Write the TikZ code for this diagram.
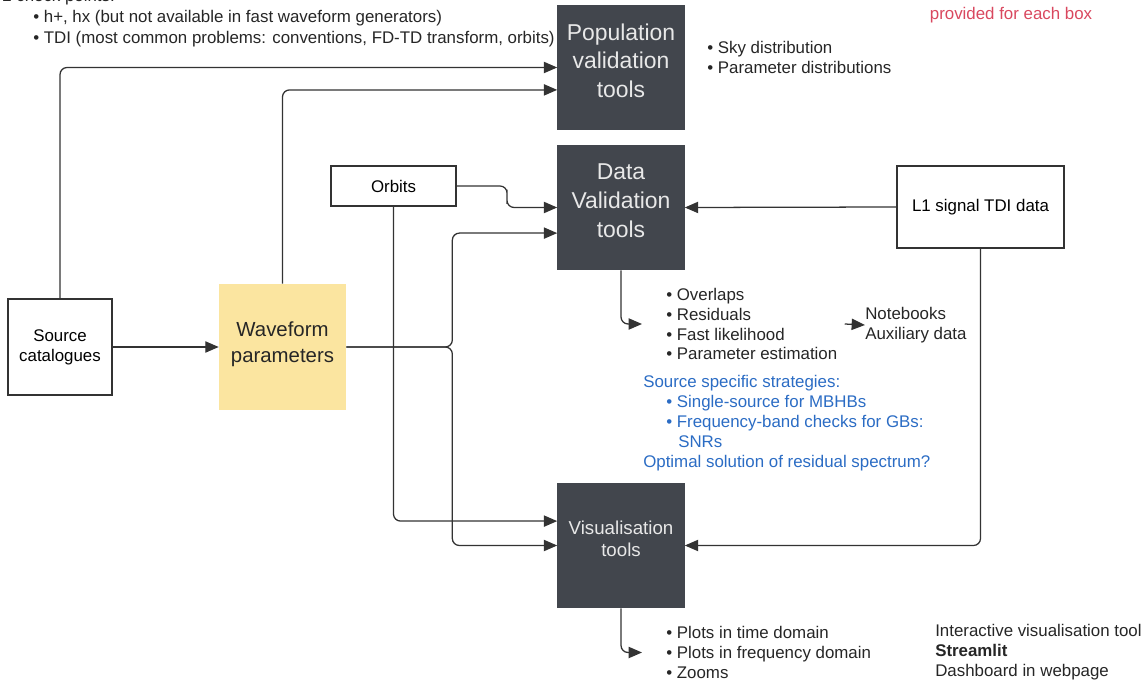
\documentclass[tikz,border=0pt]{standalone}
\usepackage{fontspec}
\setmainfont{Liberation Sans}
\usetikzlibrary{arrows.meta, calc, positioning}
\definecolor{toolgray}{HTML}{42464D}
\definecolor{toolfg}{HTML}{E8E8E8}
\definecolor{waveyellow}{HTML}{FBE5A0}
\definecolor{notered}{HTML}{D9485F}
\definecolor{stratblue}{HTML}{2B6CC4}

\begin{document}
\begin{tikzpicture}[x=0.025cm, y=-0.025cm,
    tool node/.style={fill=toolgray, text=toolfg, minimum width=3.175cm, minimum height=3.125cm, inner sep=0, text depth=0.34cm, align=center, font=\fontsize{16.3}{20.6}\selectfont},
    box node/.style={draw=black!80, line width=1.2pt, inner sep=0, align=center, font=\fontsize{12}{14.2}\selectfont},
    list node/.style={anchor=west, inner sep=0, align=left, text=black!85, font=\fontsize{12}{14.2}\selectfont},
    flow/.style={draw=black!80, line width=0.9pt, rounded corners=5pt, -{Triangle[length=9.5pt, width=8pt]}}]
    \useasboundingbox (0,0) rectangle (1144,682);

    \node[tool node] (pop) at (621,67.5) {Population\\validation\\tools};
    \node[tool node] (data) at (621,207.5) {Data\\Validation\\tools};
    \node[tool node, font=\fontsize{13.3}{15.6}\selectfont] (vis) at (621,545.5) {Visualisation\\tools};

    \node[box node, minimum width=2.6cm, minimum height=2.4cm] (src) at (60,347) {Source\\catalogues};
    \node[fill=waveyellow, minimum width=3.175cm, minimum height=3.15cm, inner sep=0, text depth=0.25cm, align=center, text=black!85, font=\fontsize{14.5}{18.5}\selectfont] (wave) at (282.5,347) {Waveform\\parameters};
    \node[box node, minimum width=3.125cm, minimum height=1cm] (orb) at (393.5,186) {Orbits};
    \node[box node, minimum width=4.175cm, minimum height=2.05cm] (l1) at (980.5,207) {L1 signal TDI data};

    % notes
    \node[list node, font=\fontsize{12}{15}\selectfont] (checks) at (2,18) {2 check points:\\\hspace*{0.775cm}\textbullet\ h+, hx (but not available in fast waveform generators)\\\hspace*{0.775cm}\textbullet\ TDI (most common problems: conventions, FD-TD transform, orbits)};
    \node[text=notered, inner sep=0, font=\fontsize{12}{14.2}\selectfont] (note) at (1011,15) {provided for each box};
    \node[list node] (pops) at (707,57) {\textbullet\ Sky distribution\\\textbullet\ Parameter distributions};
    \node[list node] (dlist) at (666,324) {\textbullet\ Overlaps\\\textbullet\ Residuals\\\textbullet\ Fast likelihood\\\textbullet\ Parameter estimation};
    \node[list node] (nb) at (865,325) {Notebooks\\Auxiliary data};
    \node[list node, text=stratblue] (strat) at (643,423.5) {Source specific strategies:\\\hspace*{0.575cm}\textbullet\ Single-source for MBHBs\\\hspace*{0.575cm}\textbullet\ Frequency-band checks for GBs:\\\hspace*{0.875cm}SNRs\\Optimal solution of residual spectrum?};
    \node[list node] (vlist) at (666,652.5) {\textbullet\ Plots in time domain\\\textbullet\ Plots in frequency domain\\\textbullet\ Zooms};
    \node[list node] (stream) at (935,652.5) {Interactive visualisation tool\\\textbf{Streamlit}\\Dashboard in webpage};

    % connectors
    \draw[flow] (src.north) |- (pop.west);
    \draw[flow] (wave.north) |- ([yshift=-0.56cm]pop.west);
    \draw[flow] (src.east) -- (wave.west);
    \draw[flow] (wave.east) -- ++(2.65cm,0) |- ([yshift=-0.64cm]data.west);
    \draw[flow] (wave.east) -- ++(2.65cm,0) |- (vis.west);
    \draw[flow] (orb.east) -| ($(orb.east)!0.5!(data.west)$) |- (data.west);
    \draw[flow] (orb.south) |- ([yshift=0.61cm]vis.west);
    \draw[flow] (l1.west) -- (data.east);
    \draw[flow] (l1.south) |- (vis.east);
    \draw[flow] (data.south) |- ([xshift=-0.6cm]dlist.west);
    \draw[flow] (vis.south) |- ([xshift=-0.6cm]vlist.west);
    \draw[flow] ([xshift=0.18cm]dlist.east) -- (nb.west);
\end{tikzpicture}
\end{document}
